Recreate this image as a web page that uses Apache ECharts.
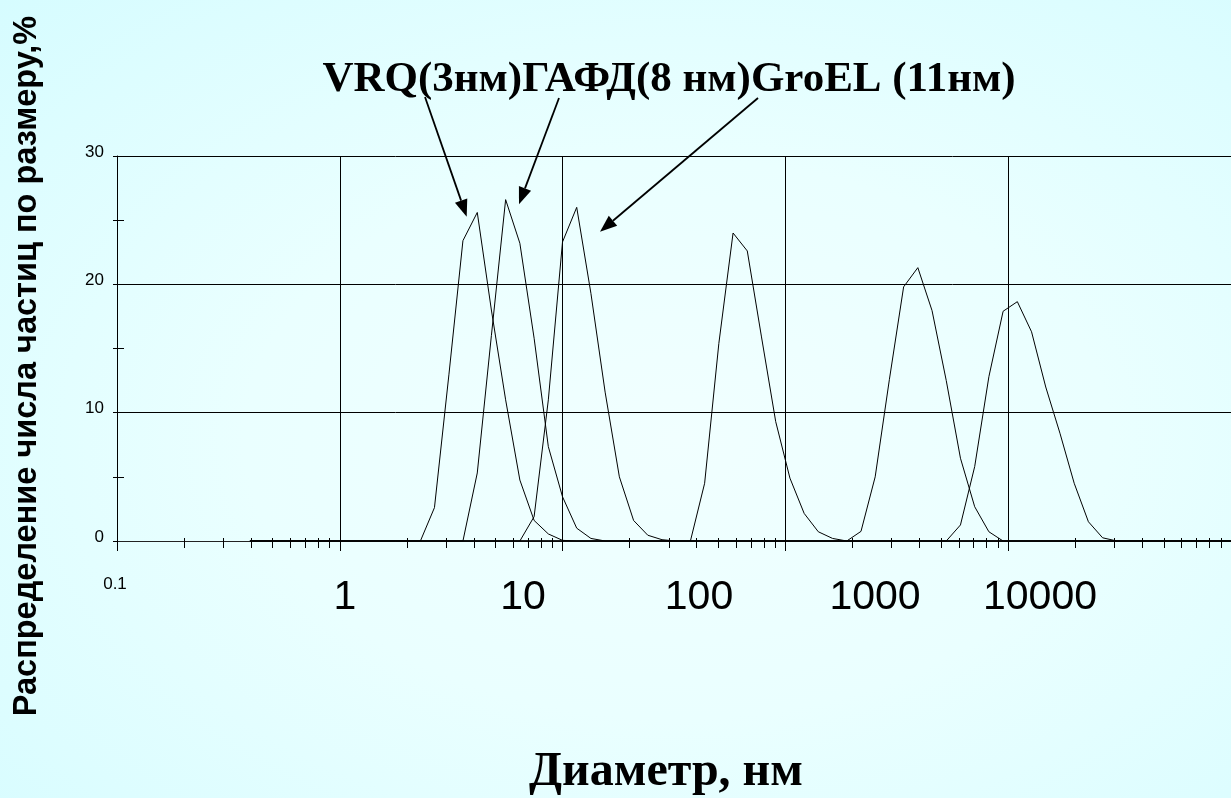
<!DOCTYPE html>
<html>
<head>
<meta charset="utf-8">
<script src="https://cdn.jsdelivr.net/npm/echarts@6/dist/echarts.min.js"></script>
<style>
  html, body { margin: 0; padding: 0; }
  body { background: radial-gradient(ellipse at 55% 55%, #f1ffff 0%, #eaffff 45%, #d6fcff 100%); }
  #main { width: 1231px; height: 798px; }
</style>
</head>
<body>
<div id="main"></div>
<script>
// диаметры (нм) и доли (%) по бинам прибора
var vrqX = [2.30, 2.66, 3.09, 3.57, 4.14, 4.79, 5.55, 6.43, 7.45, 8.63, 9.99, 11.57];
var vrqY = [0, 2.6, 13.0, 23.4, 25.6, 18.0, 11.0, 4.75, 1.6, 0.55, 0.05, 0];

var gapdX = [3.57, 4.14, 4.79, 5.55, 6.43, 7.45, 8.63, 9.99, 11.57, 13.40, 15.52];
var gapdY = [0, 5.3, 16.0, 26.6, 23.2, 15.8, 7.35, 3.45, 1.0, 0.2, 0];

var groelX = [6.43, 7.45, 8.63, 9.99, 11.57, 13.40, 15.52, 17.98, 20.83, 24.12, 27.93, 32.35];
var groelY = [0, 1.9, 11.0, 23.3, 26.0, 19.3, 11.6, 5.0, 1.6, 0.45, 0.1, 0];

var peak4X = [37.47, 43.40, 50.27, 58.23, 67.44, 78.11, 90.47, 104.8, 121.4, 140.5, 162.8, 188.5];
var peak4Y = [0, 4.5, 15.4, 24.0, 22.6, 15.9, 9.3, 4.9, 2.15, 0.72, 0.2, 0];

var peak5X = [188.5, 218.4, 252.9, 293.0, 339.3, 393.0, 455.2, 527.2, 610.6, 707.3, 819.0, 948.6];
var peak5Y = [0, 0.75, 5.0, 12.6, 19.8, 21.3, 17.95, 12.5, 6.45, 2.67, 0.72, 0];

var peak6X = [527.2, 610.6, 707.3, 819.0, 948.6, 1099, 1273, 1474, 1707, 1978, 2291, 2653, 3073];
var peak6Y = [0, 1.25, 5.8, 12.8, 17.9, 18.65, 16.3, 12.0, 8.4, 4.5, 1.5, 0.25, 0];

// крайние бины (нули)
var edgeX = [0.395, 11530];

var xTickLabels = ['0.1', '1', '10', '100', '1000', '10000'];
var titleText = 'VRQ(3нм)ГАФД(8 нм)GroEL (11нм)';
var xName = 'Диаметр, нм';
var yName = 'Распределение числа частиц по размеру,%';

// раскладка подписей (как в исходном слайде, не по сетке)
var xLabelPos = [[115, 584, 17], [345, 598, 41], [523, 598, 41], [699, 598, 41], [875, 598, 41], [1040, 598, 41]];

function pts(xs, ys) {
  var d = [[edgeX[0], 0]];
  for (var i = 0; i < xs.length; i++) d.push([xs[i], ys[i]]);
  d.push([edgeX[1], 0]);
  return d;
}

function arrow(x1, y1, x2, y2) {
  var dx = x2 - x1, dy = y2 - y1, len = Math.sqrt(dx * dx + dy * dy);
  var ux = dx / len, uy = dy / len, hl = 17, hw = 6.5;
  var bx = x2 - ux * hl, by = y2 - uy * hl;
  return [
    { type: 'line', shape: { x1: x1, y1: y1, x2: bx, y2: by }, style: { stroke: '#000', lineWidth: 1.8 } },
    { type: 'polygon', shape: { points: [[x2, y2], [bx - uy * hw, by + ux * hw], [bx + uy * hw, by - ux * hw]] }, style: { fill: '#000' } }
  ];
}

var sans = '"Liberation Sans", Arial, sans-serif';
var serif = '"Liberation Serif", "Times New Roman", serif';

function txt(text, x, y, font, rot) {
  return {
    type: 'text', x: x, y: y, rotation: rot || 0,
    style: { text: text, font: font, fill: '#000', align: 'center', verticalAlign: 'middle', textAlign: 'center', textVerticalAlign: 'middle' }
  };
}

var graphics = [];
xTickLabels.forEach(function (t, i) {
  var p = xLabelPos[i];
  graphics.push(txt(t, p[0], p[1], p[2] + 'px ' + sans));
});
graphics.push(txt(titleText, 669, 80, 'bold 43px ' + serif));
graphics.push(txt(xName, 666, 773, 'bold 48px ' + serif));
graphics.push(txt(yName, 27, 366, 'bold 32.5px ' + sans, Math.PI / 2));
graphics = graphics.concat(arrow(425, 97, 466.7, 216.7));
graphics = graphics.concat(arrow(559, 98, 519, 204.3));
graphics = graphics.concat(arrow(758, 98, 600, 231.7));

function lineSeries(name, xs, ys) {
  return {
    name: name, type: 'line', data: pts(xs, ys), symbol: 'none', xAxisIndex: 0, yAxisIndex: 0,
    lineStyle: { color: '#000', width: 1 }, silent: true
  };
}

var chart = echarts.init(document.getElementById('main'), null, { renderer: 'canvas' });
chart.setOption({
  backgroundColor: 'transparent',
  animation: false,
  grid: { left: 117, top: 156, width: 1124, height: 385, containLabel: false },
  xAxis: [{
    type: 'log', logBase: 10, min: 0.1, max: 10000,
    axisLine: { show: true, lineStyle: { color: '#222', width: 1 } },
    axisTick: { show: true, length: 10, lineStyle: { color: '#000' } },
    minorTick: { show: true, splitNumber: 9, length: 7, lineStyle: { color: '#000' } },
    axisLabel: { show: false },
    splitLine: { show: true, lineStyle: { color: '#000', width: 1 } }
  }, {
    type: 'log', logBase: 10, min: 0.1, max: 10000, position: 'bottom',
    axisLine: { show: false },
    axisTick: { show: false, inside: true },
    minorTick: { show: true, splitNumber: 9, length: 3, lineStyle: { color: '#000' } },
    axisLabel: { show: false },
    splitLine: { show: false }
  }],
  yAxis: [{
    type: 'value', min: 0, max: 30, interval: 10,
    axisLine: { show: true, lineStyle: { color: '#000', width: 1 } },
    axisTick: { show: true, length: 4, lineStyle: { color: '#000' } },
    minorTick: { show: true, splitNumber: 2, length: 4, lineStyle: { color: '#000' } },
    axisLabel: { color: '#000', fontSize: 17, fontFamily: sans, margin: 13, verticalAlign: 'bottom', lineHeight: 8 },
    splitLine: { show: true, lineStyle: { color: '#000', width: 1 } }
  }, {
    type: 'value', min: 0, max: 30, interval: 10, position: 'left',
    axisLine: { show: false },
    axisTick: { show: false, inside: true },
    minorTick: { show: true, splitNumber: 2, length: 7, lineStyle: { color: '#000' } },
    axisLabel: { show: false },
    splitLine: { show: false }
  }],
  series: [
    lineSeries('VRQ', vrqX, vrqY),
    lineSeries('ГАФД', gapdX, gapdY),
    lineSeries('GroEL', groelX, groelY),
    lineSeries('peak4', peak4X, peak4Y),
    lineSeries('peak5', peak5X, peak5Y),
    lineSeries('peak6', peak6X, peak6Y)
  ],
  graphic: graphics
});
</script>
</body>
</html>
